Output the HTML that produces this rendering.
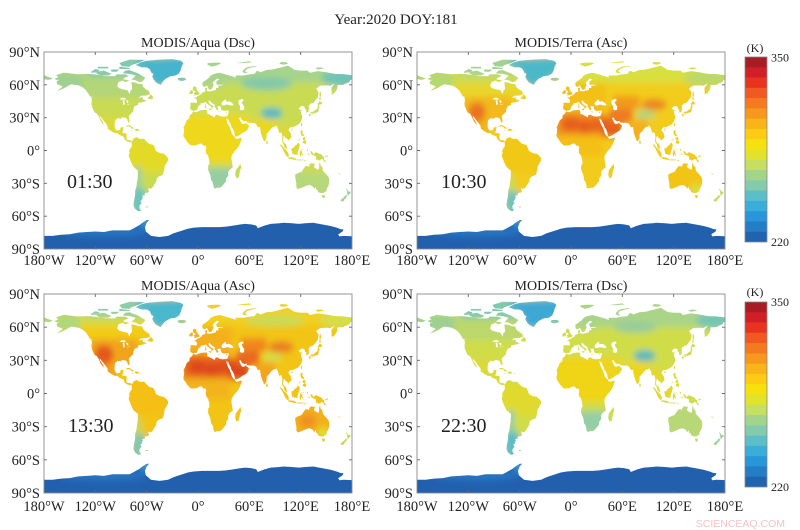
<!DOCTYPE html>
<html><head><meta charset="utf-8">
<style>
html,body{margin:0;padding:0;background:#fff;}
svg{display:block}
.t{font-family:"Liberation Serif",serif;fill:#222}
</style></head>
<body>
<svg width="800" height="530" viewBox="0 0 800 530" xmlns="http://www.w3.org/2000/svg" xmlns:xlink="http://www.w3.org/1999/xlink">
<defs>
<clipPath id="L">
<polygon points="-168,65.5 -163,67 -166,68.8 -157,71.2 -148,70.3 -141,69.7 -130,70 -121,69.5 -108,68 -97,68 -95,69.5 -85,69.5 -81,68 -86,66.5 -88,64 -93,62.5 -94.5,59 -92.5,57 -88,56 -82.5,55 -80,51.5 -79,54.5 -77,56 -77.5,60 -78,62.5 -73,62 -70,61 -65,60.5 -64,58 -61,56 -57,54 -56,51.5 -60,50.2 -66.5,50 -69.5,48 -64.3,48.8 -65,47 -61,45.8 -60,45.5 -63,44.5 -66,44 -70,43.5 -70,41.7 -74,40.5 -75.5,38 -76,35.5 -81,31.5 -80,27 -80.5,25.2 -82,26.5 -83,29 -85,30 -89,30.3 -90,29 -94,29.6 -97,27.5 -97.5,24 -97.5,21.5 -96,19 -94.5,18.2 -91,18.8 -90.5,21 -87,21.5 -87.8,18 -88.5,16 -84,15.8 -83.3,14.5 -83.7,11 -82.5,9.5 -79.5,9.5 -77.3,8.5 -77.8,7.5 -80,7.5 -83,8.3 -85.7,10 -87.5,13 -91.5,14 -94.5,16 -97,15.8 -101,17.5 -105.5,20 -105.7,22.5 -108.5,25.5 -112.5,29.5 -114.8,31.8 -114.5,30 -112,27 -109.5,23.2 -112.1,25 -114.2,27.5 -115.7,30.5 -117.1,32.6 -118.5,34 -120.6,34.6 -122.5,37.5 -124.2,40.5 -124.5,43 -124,46.5 -124.7,48.4 -123,49 -127,50.5 -130,54 -132,56 -135.5,58 -139.5,59.5 -144,60 -148,60.5 -151,59.5 -154,58 -157.5,56.5 -162,55 -164.5,54.5 -158,58.5 -162,59.8 -164.5,60.5 -165.3,62.5 -164,64 -161,64.5 -165,64.5"/>
<polygon points="-180,65 -180,68.9 -176,67.5 -172,66.5 -169.8,66 -172,65 -175,64.5 -178,65"/>
<polygon points="-61.5,66.5 -64.5,63.5 -68,62.2 -74,64.5 -78,64.5 -74,67.5 -73,68.5 -80,70 -88,70.5 -85,73 -80,73.5 -77,72.5 -70,70.5 -67,69"/>
<polygon points="-92,80 -80,83 -62,82.8 -70,80 -78,78 -80,76.5 -89,77"/>
<polygon points="-92,76.5 -80,75.5 -80,74.5 -92,74.5"/>
<polygon points="-118,72 -110,73 -101,70 -105,68.5 -114,68.5 -119,70.5"/>
<polygon points="-125,72 -120,74.5 -115,73.5 -117,71.5 -125,71"/>
<polygon points="-117,76.5 -105,76.5 -105,75 -117,75"/>
<polygon points="-102,74 -92,74 -95,72 -101,72"/>
<polygon points="-87,65 -80,64 -85,62.5 -88,64"/>
<polygon points="-73,78 -67,80.5 -60,82 -45,83 -30,83.5 -20,82 -17,80 -19,77 -20,74 -22,70.5 -26,68.5 -32,68 -38,65.5 -41,63 -43.5,60 -46,60.8 -49.5,62.5 -52,65 -53.5,67.5 -52,70 -54.5,71 -56.5,74.5 -60,76 -66,76 -71,77.5"/>
<polygon points="-22.5,64 -24,65.5 -22,66.4 -16,66.5 -13.5,65.2 -15,64.2 -18.7,63.4 -21,63.8"/>
<polygon points="-59.3,47.6 -56.5,49.7 -55.5,51.5 -53,49.5 -52.7,47.5 -53.7,46.7 -55.8,47"/>
<polygon points="-84.9,21.9 -82.5,23.1 -80,23.1 -77.2,21.7 -74.2,20.2 -77.6,19.9 -78.5,21.5 -81.5,22 -83.5,21.9"/>
<polygon points="-74.4,18.4 -72.8,19.9 -70,19.7 -68.4,18.6 -71.4,17.7 -72.5,18.2"/>
<polygon points="-78.3,18.4 -76.3,18.2 -76.8,17.8 -78.2,18.1"/>
<polygon points="-67.2,18.5 -65.6,18.4 -65.8,18 -67.2,18"/>
<polygon points="-128.3,50.8 -125,50 -123.3,48.4 -125,48.9"/>
<polygon points="-77.3,8.5 -76,9.5 -75.5,10.8 -72,12.2 -70,11.5 -68,10.5 -63,10.7 -60.5,8.5 -57,6 -52,5 -50,1.8 -49.5,0 -48,-1 -44,-2.5 -40,-3 -37,-5 -35,-7 -35,-9 -37.5,-12.5 -39,-14.5 -39.5,-18 -41,-22 -43,-23 -46.5,-24 -48.5,-26 -48.8,-28.5 -51,-31 -53,-33.7 -55,-35 -58.5,-34.5 -57.5,-36.5 -57.5,-38.2 -62,-39 -62.5,-41 -65,-41 -64.5,-42.5 -65.5,-45 -67.5,-46.5 -66,-48 -68.5,-50.5 -68.5,-52.5 -66.5,-55 -70,-55.5 -74,-53 -75.5,-50 -75,-46.5 -74,-43 -73.5,-40 -73.5,-37 -72,-33 -71.5,-30 -70.5,-25 -70.2,-18.5 -75.5,-15 -78,-11 -80.5,-6 -81.2,-4.5 -80,-2.5 -80.5,-0.5 -79.5,1.5 -78.5,2.5 -77.3,4 -77.5,7"/>
<polygon points="-61.3,-51 -58,-51.3 -58.5,-52 -61,-52"/>
<polygon points="-9,43 -8,43.7 -1.5,43.4 -1.2,46 -2.5,47.3 -4.7,48.4 -1.5,48.7 -1,49.4 1.5,50.2 2.5,51 4,51.5 5,53 8.5,53.8 8.2,56.8 10.5,57.6 10.5,56 10,54.5 14,54 18,54.7 21,55.5 21,57 24,57.3 23.5,59.2 28,59.5 30,60 25,60.2 22.5,60 21.5,61 21.5,63 25,65 22,65.8 19,63.5 17.5,62.5 17.2,61 18.5,60 18,59.3 16.5,57 16,56.2 14,55.4 12.8,55.9 11,58.5 10.5,59.5 8,58 5.5,58.8 5,61 5.5,62.5 8,63.5 12.5,66.2 15,68.5 19,70 25,71 30,70 33,69.3 41,67.5 44,66.5 44,68.5 53,68.5 60,69.5 66,70 69,73 73,71.5 80,73.5 87,74 100,76.5 105,77.6 113,73.7 120,73 128,73 131,71 140,72.5 150,71.5 160,70 170,69.8 178,69 180,68.9 180,65 178,64.3 177,62.5 172,61 170,60 163,59.8 163,58 162.5,56 160,53 158.5,52 156.5,51 156,55 156,57.5 160,61.5 155,59.2 150,59.5 143,59.3 138,56.5 141,53 140.5,51 140,48.5 138.5,47 135,43.5 132,43 129.5,41 129.5,38 129.3,35.5 126.5,34.5 126.5,37.5 125,37.8 124.5,40 121.5,40.8 118.5,39.2 117.7,38.5 119,37.2 122.5,37 120,36 120.5,34 121.5,32 122,30 121,28 119.5,25.5 117,23.5 113.5,22.3 110.5,21 108.5,21.5 106.5,20 105.7,18.5 108.5,15.5 109.3,12.5 109,11.5 107,10.5 105,8.6 104.8,10.4 103,11 100.5,13.5 99.2,10 100.3,7 102.5,6 103.4,4 104.2,1.4 103.5,1.3 101,2.8 100.4,5.5 98.3,8 98.6,13 97.5,16.5 94.5,16.2 94,19 92.5,21.5 91.5,22.7 89,21.7 86.8,21 85,19.5 82.5,17 80.3,15.5 80.2,13 79.8,10.3 77.5,8.1 76.5,9.5 75,12.5 73.5,16 72.8,19.5 72.6,21.5 70.5,21 69,22.3 68.5,23.5 67,24.8 64,25.3 61.5,25.2 57.5,25.7 56.5,27.1 54,26.6 51,28 50.2,30 48.5,30 48,29.5 49.5,27 50.3,25.6 51.5,24.2 54,24.2 56,25.5 56.3,26.3 56.5,24.5 58.5,23.6 59.8,22.4 58.5,20.5 57.8,19 55.5,17.5 52,16 48.5,14 45,12.8 43.5,12.7 42.8,15 42.5,16.5 41,19.5 39,21.5 38.5,23.5 37,25.5 35.5,28 34.9,29.5 34.3,27.8 32.6,29.9 32.3,31.3 34.2,31.3 35,32.8 35.9,35 36,36.5 34.5,36.5 32,36.3 30,36.2 27.5,37 26.5,39.5 26,40.8 23.5,40.3 22.6,40.5 23,39 24,38 22.5,36.5 21.5,37.5 21,38.5 19.5,40 19.5,41.8 16,43.5 13.6,45.7 12.3,45.3 12.5,44 14,42.3 16,41.4 18.5,40.2 17,39 16.5,38.5 15.7,38 15.8,40 14,40.8 12.5,41.7 10.5,43 9,44.4 7.5,43.8 5,43.3 3,43.2 3.2,42 0.8,41 -0.2,39.5 -0.7,37.6 -2.2,36.7 -4.5,36.7 -5.6,36 -7.5,37.2 -9,37 -8.8,38.7 -9.5,39.5 -8.7,41 -8.8,42.5"/>
<polygon points="-5.7,50 1.4,51.2 1.7,52.7 0.2,53.5 -1.6,55.6 -2,57.7 -3.5,58.6 -5,58.6 -6.2,56.8 -5.6,55.3 -4.8,54.8 -3,54 -3.2,53.3 -4.5,52.8 -5.2,51.7 -3.2,51.4"/>
<polygon points="-6,52.2 -6.2,53.9 -5.6,54.6 -7.3,55.3 -8.7,54.6 -10,53.5 -10.3,51.8 -8,51.6"/>
<polygon points="11,78.5 16,76.6 21,77.5 27,79.5 25,80.3 18,80.3 11,79.7"/>
<polygon points="52,71.5 56,70.6 58,70.7 55,72.5 57,74.5 62,75.8 69,76.9 67,77.2 60,76.5 56,75.5 53,73.5"/>
<polygon points="45,80 60,81.5 63,80.5 50,79.8"/>
<polygon points="95,79 100,78.5 105,79 104,80.5 97,81"/>
<polygon points="137,75.5 140,74 148,75 143,76"/>
<polygon points="8.2,41 9.7,41 9.6,39 8.5,39"/>
<polygon points="8.6,43 9.5,43 9.4,41.4 8.7,41.6"/>
<polygon points="12.4,38.1 15.6,38.3 15.1,36.7 12.5,37.6"/>
<polygon points="23.5,35.6 26.3,35.3 26,35 23.6,35.2"/>
<polygon points="32.3,35.1 34.6,35.7 34,34.6 32.5,34.7"/>
<polygon points="79.8,6 79.9,8.5 80.1,9.8 81.5,7.8 81.8,7 80.7,5.9"/>
<polygon points="129.8,33.2 131,33.9 131.9,33 131.2,31.3 130.2,31.2 129.7,32.5"/>
<polygon points="131,34.3 132.5,35.4 135.5,35.6 136.7,36.9 138.5,37.5 139.8,38.6 140,40 140,41.3 141.5,41.3 142,39.5 141,38 140.8,36 140.9,35.7 139.8,35 138.5,34.6 137,34.5 135.5,33.5 135,34.5 133,34.3"/>
<polygon points="132.5,33.9 134.7,34.2 134.3,33.3 133,32.8"/>
<polygon points="140,41.5 140,43.3 141.5,43.5 141.8,45.4 144,44.2 145.5,43.3 143.5,42 141,41.8"/>
<polygon points="142,46 143.5,46 143,49 144,51 143,54 142.5,54.3 142,51.5 142.2,49 141.8,47"/>
<polygon points="120.1,23 121,25.2 122,25 121.5,22.5 120.8,22"/>
<polygon points="108.7,19.3 110.5,20.1 111,19.6 109.5,18.2"/>
<polygon points="120,18.5 122.2,18.5 122,16 124,13.8 123.5,13 121,13.8 120.5,14.5 119.8,16.2"/>
<polygon points="122,11.5 125,12.5 125.5,10 123,9.3"/>
<polygon points="122,7 123,8.5 125.5,9.8 126.5,7.5 125.5,5.7 124,6.5"/>
<polygon points="117.3,8.5 119.5,11.4 119.8,10.5 117.5,8.2"/>
<polygon points="109,1.8 109.6,-1 110.2,-3 114.5,-4 116.5,-3.8 116.3,-2 117.6,0.8 117.8,1.2 119,5 117.8,6.9 116.6,6.9 115.3,5.3 113.5,4.5 111,2 109.6,2"/>
<polygon points="95.3,5.6 97.6,5.2 100.3,2.3 103.7,0 106,-3 106,-5.8 104.5,-5.9 102.3,-4 100.4,-1 98.7,1.7 97.2,3.5"/>
<polygon points="105.2,-6.8 106,-6 108.3,-6.3 111,-6.4 112.6,-6.9 114.6,-7.7 114.4,-8.7 111,-8.2 108,-7.8 106.4,-7.4"/>
<polygon points="119.5,-5.5 120.5,-5.5 120.8,-2.8 122.5,-4.8 123,-4 121.3,-1.9 123.2,-1 121,-1 120.7,0.5 123,0.5 124.5,1.5 125,1.4 123,0.9 120.5,0.7 119.7,0 118.8,-2.8"/>
<polygon points="115,-8.2 119,-8.2 123,-8.3 123,-8.9 119,-9 115,-8.9"/>
<polygon points="124,-9.3 127,-8.4 126,-9.2 124,-10.2"/>
<polygon points="127.5,1.5 128.5,1.5 128,-0.8 127.3,0"/>
<polygon points="128,-3 131,-3 130.5,-3.8 128,-3.6"/>
<polygon points="131,-1 133,-0.7 135,-3.3 137.8,-1.5 141,-2.6 144.5,-3.8 146,-5.5 147.7,-6.2 147,-8 148.5,-9 150,-10.6 147.5,-10.2 146,-8.1 144,-7.6 143,-9 141,-9.1 139,-8.1 138,-8.4 137.8,-5.3 135,-4.3 133.5,-4 132,-2.8 132.3,-2.2 131,-1.4"/>
<polygon points="148.5,-5.5 152,-4.2 151.5,-5.5 149,-6.2"/>
<polygon points="-5.8,35.8 -2,35 3,36.8 10,37.2 11,35 10.5,33.8 15,32.3 19.5,30.3 20.5,32.5 23,32.7 25,31.6 29,30.9 32.3,31.3 32.5,29.9 33.6,27.2 35,24 37.2,21 38.5,18 39.5,15.5 41.5,13.5 43.3,12.4 43.3,11.5 45,10.5 49,11.3 51.2,11.8 51,10.5 49.5,7 48,4.5 46,2 43,-0.5 41.5,-2 39.5,-4.5 39,-7 39.5,-10 40.5,-14 40.5,-15.5 37,-17.5 35,-20 35.5,-23 33,-25.5 32.8,-26.5 32.5,-28.5 31,-29.8 28,-32.8 25.7,-34 22,-34.2 20,-34.8 18.4,-34.2 18,-32 17.2,-29 15.3,-27 14.5,-22.5 13.3,-20.5 11.8,-17.5 12,-13.5 13.5,-12 13.2,-9 12.2,-6 12,-5 9.5,-2.5 9,0 9.7,3 8.5,4.5 6,4.3 4.5,6.3 2,6.3 -2,4.8 -7.5,4.4 -9,5 -11.5,6.9 -13.2,8.5 -15,10.8 -16.7,12.5 -17.2,14.7 -16.5,16 -16.2,19.5 -17,21 -15,24 -13.2,27.5 -10,29.5 -9.8,32 -6.8,34"/>
<polygon points="49.5,-12 50.5,-15.5 49.5,-17.5 47.5,-24.5 45,-25.5 43.5,-22 44.2,-18 46.5,-15.5 48.5,-13.5"/>
<polygon points="113.5,-22 114,-26.5 115,-30 115,-33.5 116,-35 118,-35 121.5,-33.9 124,-33 126,-32.3 129,-31.7 131,-31.5 134,-32.8 136,-35 137.5,-33 138,-35.5 139.5,-35.8 140.5,-38 143.5,-38.8 146.5,-39 148,-37.8 150,-37.5 150.2,-35.5 151.3,-33.8 153,-31 153.5,-28 153,-25 150.8,-22.5 149,-21 146,-18.5 145.3,-15 143.5,-14 142.5,-10.7 141.7,-12.5 141.5,-16.5 140.5,-17.5 139,-17 136,-15.5 135.5,-14.8 136.8,-12.2 135.5,-12 132.5,-11.5 130.5,-12.5 129.5,-15 127.5,-14 125.5,-14.5 123.5,-16.5 122.2,-18 121,-19.5 117,-20.6 114.2,-21.8"/>
<polygon points="144.7,-40.7 148.3,-40.9 148,-43.2 146,-43.6 145.2,-42.2"/>
<polygon points="172.7,-34.4 174.5,-35.9 176,-37.5 178.5,-37.7 178,-39.2 176.9,-39.6 175.3,-41.6 174.6,-41.3 175,-39.8 173.8,-39.2 174.6,-38 173,-35.2"/>
<polygon points="172.7,-40.5 174,-41.3 174.2,-41.8 172.8,-43.6 171.2,-44.5 170.7,-45.9 169,-46.7 166.5,-46 166.8,-45.2 168.3,-44 170.6,-42.8 172,-41.4"/>
<polygon points="164,-20.2 167,-22.2 166.5,-22.4 164,-20.8"/>
<polygon points="-180,-90 -180,-78 -170,-78 -160,-77 -150,-76.5 -140,-75 -130,-74.5 -120,-74 -110,-74.5 -100,-73 -90,-73 -80,-73 -75,-71 -68,-68 -65,-66 -60,-63.5 -57,-63.5 -60,-66 -62,-70 -61,-74 -55,-78 -45,-79 -35,-78 -28,-75.5 -20,-73.5 -12,-71.5 -5,-70.5 5,-70 15,-70 25,-70 33,-69.5 40,-68.8 50,-67.5 55,-67 62,-67.5 68,-68.5 70,-71 73,-70 78,-68.5 85,-67 95,-66.5 100,-66 110,-66.5 118,-67 125,-66.5 135,-66 140,-66.8 145,-67.5 155,-69 162,-70.5 167,-72 170,-72 169,-74 164,-76.5 165,-78.5 170,-78 180,-78.3 180,-90"/>
</clipPath>
<filter id="b" x="-5%" y="-5%" width="110%" height="110%"><feGaussianBlur stdDeviation="3.2"/></filter>
<g id="water" fill="#fff">
<polygon points="27.5,42.5 28,44 29.7,45.3 31.5,46.6 33.5,46 32.5,45.3 33.5,44.5 36,45 38,44.4 40,43.4 41.6,41.6 39,41 36,41.7 33.5,42 31,41.2 29,41.2 28,41.5"/>
<polygon points="47,44.8 47.5,45.6 49.3,46.5 51.5,47 53,46.8 53,45.2 51.3,44.5 51.2,43.2 52.6,42 52.8,41 54,40.8 53.9,38.9 54,37.3 51,36.7 49,37.6 48.9,38.5 49.4,40.2 48,42 47.5,43 47.3,44"/>
<polygon points="-92,46.7 -89,48.3 -85,48 -84.5,46.5 -88,46.5"/>
<polygon points="-88,46 -86,45.8 -85.5,42 -87.5,41.7 -87.8,44"/>
<polygon points="-84.5,46 -81.5,45.5 -81.5,43.5 -82.5,43.2 -83.5,45"/>
<polygon points="-83.5,41.7 -79,42.8 -79,42.5 -83,41.5"/>
</g>
<g id="ant">
<rect x="-200" y="-110" width="400" height="50" fill="#2060ae"/>
<ellipse cx="-110" cy="-74" rx="50" ry="4" fill="#2878c4"/>
<ellipse cx="-62" cy="-66" rx="6" ry="4" fill="#3a9ad4"/>
</g>
<g id="cb">
<rect x="0" y="0" width="22" height="10.6" fill="#a81c24"/>
<rect x="0" y="10.28" width="22" height="10.6" fill="#d01f26"/>
<rect x="0" y="20.56" width="22" height="10.6" fill="#e8341f"/>
<rect x="0" y="30.83" width="22" height="10.6" fill="#f05a22"/>
<rect x="0" y="41.11" width="22" height="10.6" fill="#f47a20"/>
<rect x="0" y="51.39" width="22" height="10.6" fill="#f6981e"/>
<rect x="0" y="61.67" width="22" height="10.6" fill="#f8b418"/>
<rect x="0" y="71.94" width="22" height="10.6" fill="#fccc14"/>
<rect x="0" y="82.22" width="22" height="10.6" fill="#f6e010"/>
<rect x="0" y="92.5" width="22" height="10.6" fill="#e2e22c"/>
<rect x="0" y="102.78" width="22" height="10.6" fill="#c6de62"/>
<rect x="0" y="113.06" width="22" height="10.6" fill="#a2d48c"/>
<rect x="0" y="123.33" width="22" height="10.6" fill="#84cbae"/>
<rect x="0" y="133.61" width="22" height="10.6" fill="#5cbec6"/>
<rect x="0" y="143.89" width="22" height="10.6" fill="#3aaed8"/>
<rect x="0" y="154.17" width="22" height="10.6" fill="#2896d8"/>
<rect x="0" y="164.44" width="22" height="10.6" fill="#237ec6"/>
<rect x="0" y="174.72" width="22" height="10.28" fill="#2064b0"/>
<rect x="0" y="0" width="22" height="185" fill="none" stroke="#888" stroke-width="0.8"/>
</g>
</defs>

<svg x="44" y="52" width="308" height="197" viewBox="-180 -90 360 180" preserveAspectRatio="none">
<g transform="scale(1,-1)">
<g clip-path="url(#L)"><g filter="url(#b)">
<rect x="-200" y="-110" width="400" height="220" fill="#c9db52"/>
<rect x="-170" y="48" width="112" height="22" fill="#b2d678"/>
<rect x="-200" y="56" width="64" height="16" fill="#9ed092"/>
<rect x="-130" y="68" width="72" height="18" fill="#80c8b0"/>
<polygon points="-48,58 -15,65 -10,86 -68,84 -74,78 -62,75 -57,70 -55,64" fill="#44b4cc"/>
<rect x="-118" y="8" width="42" height="22" fill="#dcda34"/>
<rect x="-82" y="-20" width="50" height="30" fill="#e2da28"/>
<rect x="-73" y="-35" width="7" height="20" fill="#9ccfa0"/>
<rect x="-77" y="-58" width="16" height="23" fill="#6cc4bc"/>
<rect x="-20" y="-12" width="72" height="45" fill="#efd81a"/>
<rect x="35" y="12" width="27" height="20" fill="#ecd81c"/>
<rect x="66" y="8" width="26" height="22" fill="#e8d820"/>
<rect x="92" y="-10" width="40" height="32" fill="#dcd838"/>
<rect x="10" y="-36" width="32" height="20" fill="#96cea4"/>
<rect x="0" y="62" width="200" height="30" fill="#a6d48c"/>
<ellipse cx="80" cy="61" rx="30" ry="6" fill="#82c8aa"/>
<ellipse cx="172" cy="66" rx="28" ry="8" fill="#70c4b6"/>
<ellipse cx="86" cy="34" rx="13" ry="5" fill="#4cb8c4"/>
<rect x="5" y="58" width="25" height="14" fill="#a8d48a"/>
<rect x="-25" y="62" width="13" height="6" fill="#70c4bc"/>
<rect x="110" y="-45" width="45" height="35" fill="#b6d87a"/>
<rect x="120" y="-20" width="30" height="10" fill="#cfdc4e"/>
<rect x="165" y="-48" width="35" height="15" fill="#98cfa0"/>
<use xlink:href="#ant"/>
</g></g>
<use xlink:href="#water"/>
</g>
</svg>

<svg x="417" y="52" width="308" height="197" viewBox="-180 -90 360 180" preserveAspectRatio="none">
<g transform="scale(1,-1)">
<g clip-path="url(#L)"><g filter="url(#b)">
<rect x="-200" y="-110" width="400" height="220" fill="#f2cc1a"/>
<rect x="-200" y="48" width="145" height="14" fill="#e8d62a"/>
<rect x="-200" y="62" width="145" height="10" fill="#c8dc58"/>
<rect x="-200" y="55" width="62" height="18" fill="#b4d872"/>
<rect x="-130" y="70" width="72" height="16" fill="#a0d296"/>
<polygon points="-48,58 -15,65 -10,86 -68,84 -74,78 -62,75 -57,70 -55,64" fill="#4cb8c8"/>
<rect x="-126" y="25" width="56" height="24" fill="#f2b81c"/>
<ellipse cx="-110" cy="35" rx="10" ry="9" fill="#ea7220"/>
<rect x="-116" y="14" width="20" height="12" fill="#f0b41c"/>
<rect x="-82" y="-20" width="50" height="32" fill="#f2c818"/>
<rect x="-73" y="-37" width="7" height="15" fill="#c8dc58"/>
<rect x="-77" y="-58" width="16" height="21" fill="#70c4bc"/>
<rect x="-12" y="36" width="52" height="25" fill="#f2c018"/>
<rect x="0" y="62" width="200" height="30" fill="#d8e040"/>
<ellipse cx="162" cy="66" rx="30" ry="8" fill="#bcd968"/>
<rect x="-18" y="13" width="54" height="22" fill="#ee8a20"/>
<ellipse cx="0" cy="24" rx="11" ry="6" fill="#e65c1c"/>
<ellipse cx="16" cy="22" rx="9" ry="6" fill="#e65c1c"/>
<ellipse cx="28" cy="23" rx="7" ry="6" fill="#e8641c"/>
<polygon points="35,12 60,12 60,30 35,32" fill="#e65e1e"/>
<rect x="44" y="25" width="28" height="13" fill="#ee7a22"/>
<rect x="50" y="38" width="30" height="12" fill="#f29a1e"/>
<ellipse cx="97" cy="42" rx="15" ry="5" fill="#ec8420"/>
<ellipse cx="87" cy="33" rx="12" ry="4" fill="#b0d67e"/>
<rect x="68" y="8" width="22" height="20" fill="#f4b01c"/>
<rect x="-18" y="-5" width="55" height="19" fill="#f4c018"/>
<rect x="110" y="-45" width="45" height="35" fill="#f2c418"/>
<ellipse cx="146" cy="-36" rx="7" ry="5" fill="#d8e040"/>
<rect x="165" y="-48" width="35" height="15" fill="#c0da68"/>
<rect x="-25" y="62" width="13" height="6" fill="#a0d296"/>
<use xlink:href="#ant"/>
</g></g>
<use xlink:href="#water"/>
</g>
</svg>

<svg x="44" y="294" width="308" height="199" viewBox="-180 -90 360 180" preserveAspectRatio="none">
<g transform="scale(1,-1)">
<g clip-path="url(#L)"><g filter="url(#b)">
<rect x="-200" y="-110" width="400" height="220" fill="#f2c418"/>
<rect x="-200" y="48" width="145" height="14" fill="#f2cc18"/>
<rect x="-200" y="62" width="145" height="10" fill="#d0dc48"/>
<rect x="-200" y="55" width="62" height="18" fill="#b0d878"/>
<rect x="-130" y="70" width="72" height="16" fill="#8ccca8"/>
<polygon points="-48,58 -15,65 -10,86 -68,84 -74,78 -62,75 -57,70 -55,64" fill="#48b8cc"/>
<rect x="-126" y="25" width="56" height="24" fill="#f0a41e"/>
<ellipse cx="-110" cy="35" rx="11" ry="9" fill="#e4581e"/>
<rect x="-116" y="14" width="20" height="12" fill="#f0a01e"/>
<rect x="-82" y="-20" width="50" height="32" fill="#f4c018"/>
<rect x="-73" y="-37" width="7" height="15" fill="#c0d860"/>
<rect x="-77" y="-58" width="16" height="21" fill="#80c8b0"/>
<rect x="-12" y="36" width="52" height="24" fill="#f4b01c"/>
<rect x="0" y="62" width="200" height="30" fill="#f0d020"/>
<ellipse cx="90" cy="66" rx="35" ry="5" fill="#c8dc58"/>
<ellipse cx="168" cy="66" rx="26" ry="7" fill="#d4de48"/>
<rect x="-18" y="13" width="54" height="22" fill="#e8661e"/>
<ellipse cx="0" cy="24" rx="11" ry="6" fill="#de461c"/>
<ellipse cx="16" cy="22" rx="9" ry="6" fill="#de461c"/>
<ellipse cx="28" cy="24" rx="7" ry="6" fill="#e04c1c"/>
<polygon points="35,12 60,12 60,30 35,32" fill="#de441c"/>
<rect x="44" y="25" width="28" height="13" fill="#e86820"/>
<rect x="50" y="38" width="30" height="12" fill="#f0861e"/>
<ellipse cx="97" cy="42" rx="15" ry="5" fill="#ea7a20"/>
<ellipse cx="87" cy="33" rx="12" ry="4" fill="#d4de48"/>
<rect x="68" y="8" width="22" height="20" fill="#f2a41e"/>
<rect x="-18" y="-5" width="55" height="19" fill="#f2b41c"/>
<rect x="110" y="-45" width="45" height="35" fill="#f2b01c"/>
<ellipse cx="128" cy="-25" rx="10" ry="6" fill="#ee8e20"/>
<ellipse cx="146" cy="-36" rx="7" ry="5" fill="#e0e030"/>
<rect x="165" y="-48" width="35" height="15" fill="#c8dc58"/>
<rect x="-25" y="62" width="13" height="6" fill="#9ed096"/>
<use xlink:href="#ant"/>
</g></g>
<use xlink:href="#water"/>
</g>
</svg>

<svg x="417" y="294" width="308" height="199" viewBox="-180 -90 360 180" preserveAspectRatio="none">
<g transform="scale(1,-1)">
<g clip-path="url(#L)"><g filter="url(#b)">
<rect x="-200" y="-110" width="400" height="220" fill="#d0dd4a"/>
<rect x="-170" y="48" width="112" height="22" fill="#bcd86c"/>
<rect x="-200" y="56" width="64" height="16" fill="#9ed092"/>
<rect x="-130" y="68" width="72" height="18" fill="#80c8b0"/>
<polygon points="-48,58 -15,65 -10,86 -68,84 -74,78 -62,75 -57,70 -55,64" fill="#3ca8d4"/>
<rect x="-118" y="8" width="42" height="22" fill="#dcda34"/>
<rect x="-82" y="-20" width="50" height="30" fill="#e0da2e"/>
<rect x="-73" y="-35" width="7" height="20" fill="#90cea4"/>
<rect x="-77" y="-58" width="16" height="23" fill="#5cbcc8"/>
<rect x="-20" y="-8" width="72" height="41" fill="#f0d418"/>
<rect x="35" y="12" width="25" height="20" fill="#eed41a"/>
<rect x="66" y="8" width="26" height="22" fill="#ecd61e"/>
<rect x="92" y="-10" width="40" height="32" fill="#e2d830"/>
<rect x="10" y="-36" width="32" height="20" fill="#94cea6"/>
<rect x="0" y="60" width="200" height="32" fill="#aad488"/>
<ellipse cx="75" cy="60" rx="25" ry="5" fill="#94cc9c"/>
<ellipse cx="172" cy="66" rx="26" ry="8" fill="#76c6b2"/>
<ellipse cx="86" cy="34" rx="13" ry="5" fill="#50b8c0"/>
<rect x="5" y="58" width="25" height="14" fill="#a8d48a"/>
<rect x="-25" y="62" width="13" height="6" fill="#70c4bc"/>
<rect x="110" y="-45" width="45" height="35" fill="#b8d878"/>
<rect x="165" y="-48" width="35" height="15" fill="#98cfa0"/>
<use xlink:href="#ant"/>
</g></g>
<use xlink:href="#water"/>
</g>
</svg>

<g fill="none" stroke="#8a8a8a" stroke-width="0.9">
<rect x="44" y="52" width="308" height="197"/>
<rect x="417" y="52" width="308" height="197"/>
<rect x="44" y="294" width="308" height="199"/>
<rect x="417" y="294" width="308" height="199"/>
</g>
<g stroke="#666" stroke-width="0.9">
<path d="M95.3,52v3M146.7,52v3M198,52v3M249.3,52v3M300.7,52v3M95.3,249v-3M146.7,249v-3M198,249v-3M249.3,249v-3M300.7,249v-3M44,84.8h3M44,117.7h3M44,150.5h3M44,183.3h3M44,216.2h3M352,84.8h-3M352,117.7h-3M352,150.5h-3M352,183.3h-3M352,216.2h-3"/>
<path d="M468.3,52v3M519.7,52v3M571,52v3M622.3,52v3M673.7,52v3M468.3,249v-3M519.7,249v-3M571,249v-3M622.3,249v-3M673.7,249v-3M417,84.8h3M417,117.7h3M417,150.5h3M417,183.3h3M417,216.2h3M725,84.8h-3M725,117.7h-3M725,150.5h-3M725,183.3h-3M725,216.2h-3"/>
<path d="M95.3,294v3M146.7,294v3M198,294v3M249.3,294v3M300.7,294v3M95.3,493v-3M146.7,493v-3M198,493v-3M249.3,493v-3M300.7,493v-3M44,327.2h3M44,360.3h3M44,393.5h3M44,426.7h3M44,459.8h3M352,327.2h-3M352,360.3h-3M352,393.5h-3M352,426.7h-3M352,459.8h-3"/>
<path d="M468.3,294v3M519.7,294v3M571,294v3M622.3,294v3M673.7,294v3M468.3,493v-3M519.7,493v-3M571,493v-3M622.3,493v-3M673.7,493v-3M417,327.2h3M417,360.3h3M417,393.5h3M417,426.7h3M417,459.8h3M725,327.2h-3M725,360.3h-3M725,393.5h-3M725,426.7h-3M725,459.8h-3"/>
</g>

<use xlink:href="#cb" transform="translate(745,57)"/>
<use xlink:href="#cb" transform="translate(745,302)"/>

<text class="t" x="396" y="24" font-size="15" text-anchor="middle">Year:2020 DOY:181</text>
<text class="t" x="198" y="47" font-size="14" text-anchor="middle">MODIS/Aqua (Dsc)</text>
<text class="t" x="571" y="47" font-size="14" text-anchor="middle">MODIS/Terra (Asc)</text>
<text class="t" x="198" y="290" font-size="14" text-anchor="middle">MODIS/Aqua (Asc)</text>
<text class="t" x="571" y="290" font-size="14" text-anchor="middle">MODIS/Terra (Dsc)</text>

<text class="t" x="67" y="188" font-size="20">01:30</text>
<text class="t" x="441" y="188" font-size="20">10:30</text>
<text class="t" x="68" y="432" font-size="20">13:30</text>
<text class="t" x="441" y="432" font-size="20">22:30</text>

<g class="t" font-size="14.5" text-anchor="end">
<text x="40" y="57">90°N</text><text x="40" y="89.8">60°N</text><text x="40" y="122.7">30°N</text><text x="40" y="155.5">0°</text><text x="40" y="188.3">30°S</text><text x="40" y="221.2">60°S</text><text x="40" y="254">90°S</text>
<text x="413" y="57">90°N</text><text x="413" y="89.8">60°N</text><text x="413" y="122.7">30°N</text><text x="413" y="155.5">0°</text><text x="413" y="188.3">30°S</text><text x="413" y="221.2">60°S</text><text x="413" y="254">90°S</text>
<text x="40" y="299">90°N</text><text x="40" y="332.2">60°N</text><text x="40" y="365.3">30°N</text><text x="40" y="398.5">0°</text><text x="40" y="431.7">30°S</text><text x="40" y="464.8">60°S</text><text x="40" y="498">90°S</text>
<text x="413" y="299">90°N</text><text x="413" y="332.2">60°N</text><text x="413" y="365.3">30°N</text><text x="413" y="398.5">0°</text><text x="413" y="431.7">30°S</text><text x="413" y="464.8">60°S</text><text x="413" y="498">90°S</text>
</g>
<g class="t" font-size="14.5" text-anchor="middle">
<text x="44" y="265">180°W</text><text x="95.3" y="265">120°W</text><text x="146.7" y="265">60°W</text><text x="198" y="265">0°</text><text x="249.3" y="265">60°E</text><text x="300.7" y="265">120°E</text><text x="352" y="265">180°E</text>
<text x="417" y="265">180°W</text><text x="468.3" y="265">120°W</text><text x="519.7" y="265">60°W</text><text x="571" y="265">0°</text><text x="622.3" y="265">60°E</text><text x="673.7" y="265">120°E</text><text x="725" y="265">180°E</text>
<text x="44" y="511">180°W</text><text x="95.3" y="511">120°W</text><text x="146.7" y="511">60°W</text><text x="198" y="511">0°</text><text x="249.3" y="511">60°E</text><text x="300.7" y="511">120°E</text><text x="352" y="511">180°E</text>
<text x="417" y="511">180°W</text><text x="468.3" y="511">120°W</text><text x="519.7" y="511">60°W</text><text x="571" y="511">0°</text><text x="622.3" y="511">60°E</text><text x="673.7" y="511">120°E</text><text x="725" y="511">180°E</text>
</g>

<g class="t" font-size="12">
<text x="755" y="52" text-anchor="middle">(K)</text>
<text x="771" y="61.5">350</text>
<text x="771" y="246">220</text>
<text x="755" y="296" text-anchor="middle">(K)</text>
<text x="771" y="306">350</text>
<text x="771" y="491">220</text>
</g>

<text x="785" y="527" font-family="Liberation Sans, sans-serif" font-size="10.5" fill="#f4c2c6" text-anchor="end">SCIENCEAQ.COM</text>
</svg>
</body></html>
